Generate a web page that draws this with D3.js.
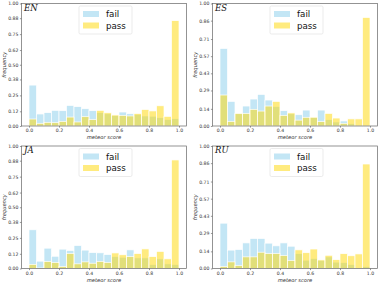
<!DOCTYPE html>
<html>
<head>
<meta charset="utf-8">
<script src="https://cdn.jsdelivr.net/npm/d3@7"></script>
<style>
  body { margin: 0; background: #fff; }
  svg { display: block; font-family: "DejaVu Sans", sans-serif; }
</style>
</head>
<body>
<script>
const w = 382;
const h = 285;

// bin edges (20 bins of 0.05)
const binStarts = [0, 0.05, 0.1, 0.15, 0.2, 0.25, 0.3, 0.35, 0.4, 0.45,
                   0.5, 0.55, 0.6, 0.65, 0.7, 0.75, 0.8, 0.85, 0.9, 0.95];
const binWidth = 0.05;

const languages = ['EN', 'ES', 'JA', 'RU'];
const xTicks = [0, 0.2, 0.4, 0.6, 0.8, 1.0];
const yTicks9 = ['0.00', '0.12', '0.25', '0.38', '0.50', '0.62', '0.75', '0.88', '1.00'];
const yTicks8 = ['0.00', '0.14', '0.29', '0.43', '0.57', '0.71', '0.86', '1.00'];

const failEN = [0.334, 0.098, 0.109, 0.128, 0.125, 0.168, 0.158, 0.141, 0.125, 0.11,
                0.10, 0.085, 0.114, 0.10, 0.095, 0.082, 0.08, 0.068, 0.054, 0.06];
const passEN = [0.057, 0.022, 0.03, 0.027, 0.038, 0.073, 0.033, 0.076, 0.052, 0.128,
                0.108, 0.09, 0.087, 0.082, 0.102, 0.135, 0.123, 0.165, 0.079, 0.86];

const failES = [0.633, 0.201, 0.10, 0.163, 0.22, 0.258, 0.212, 0.16, 0.125, 0.10,
                0.092, 0.13, 0.07, 0.13, 0.052, 0.033, 0.041, 0.02, 0.0, 0.0];
const passES = [0.253, 0.038, 0.103, 0.103, 0.136, 0.122, 0.163, 0.201, 0.087, 0.107,
                0.048, 0.071, 0.072, 0.036, 0.103, 0.065, 0.022, 0.058, 0.058, 0.886];

const failJA = [0.316, 0.06, 0.166, 0.10, 0.158, 0.147, 0.188, 0.15, 0.13, 0.128,
                0.114, 0.098, 0.092, 0.152, 0.087, 0.087, 0.033, 0.079, 0.038, 0.033];
const passJA = [0.034, 0.004, 0.057, 0.049, 0.016, 0.123, 0.038, 0.054, 0.043, 0.058,
                0.05, 0.127, 0.112, 0.098, 0.122, 0.16, 0.097, 0.14, 0.079, 0.886];

const failRU = [0.37, 0.15, 0.155, 0.209, 0.245, 0.245, 0.207, 0.185, 0.209, 0.182,
                0.122, 0.068, 0.082, 0.068, 0.095, 0.052, 0.049, 0.033, 0.004, 0.016];
const passRU = [0.016, 0.054, 0.024, 0.095, 0.095, 0.133, 0.122, 0.122, 0.106, 0.066,
                0.152, 0.129, 0.159, 0.07, 0.108, 0.072, 0.121, 0.104, 0.119, 0.853];

const failData = { EN: failEN, ES: failES, JA: failJA, RU: failRU };
const passData = { EN: passEN, ES: passES, JA: passJA, RU: passRU };
const yTickSets = { EN: yTicks9, ES: yTicks8, JA: yTicks9, RU: yTicks8 };

const failColor = 'skyblue';
const passColor = 'gold';

const panelW = 191;
const panelH = 142.5;
const m = { left: 21.5, right: 4.5, top: 3.5, bottom: 16.5 };

const svg = d3.select('body').append('svg')
              .attr('width', w)
              .attr('height', h);

languages.forEach((lang, i) => {
  const col = i % 2, row = Math.floor(i / 2);
  const g = svg.append('g')
               .attr('transform', 'translate(' + (col * panelW) + ',' + (row * panelH) + ')');

  const x = d3.scaleLinear().domain([-0.05, 1.05]).range([m.left, panelW - m.right]);
  const y = d3.scaleLinear().domain([0, 1]).range([panelH - m.bottom, m.top]);

  const series = [
    { values: failData[lang], color: failColor },
    { values: passData[lang], color: passColor }
  ];

  series.forEach(s => {
    g.append('g').selectAll('rect')
     .data(s.values)
     .enter()
     .append('rect')
     .attr('x', (d, j) => x(binStarts[j]))
     .attr('width', x(binWidth) - x(0))
     .attr('y', d => y(d))
     .attr('height', d => y(0) - y(d))
     .attr('fill', s.color)
     .attr('fill-opacity', 0.5)
     .attr('stroke', '#fff')
     .attr('stroke-width', 0.7);
  });

  // axes
  const xAxis = d3.axisBottom(x).tickValues(xTicks).tickFormat(d3.format('.1f'))
                  .tickSize(1.6).tickPadding(1.5);
  const yVals = yTickSets[lang];
  const yAxis = d3.axisLeft(y).tickValues(yVals.map(Number))
                  .tickFormat((d, k) => yVals[k]).tickSize(1.6).tickPadding(1.5);

  const gx = g.append('g')
              .attr('transform', 'translate(0,' + (panelH - m.bottom) + ')')
              .call(xAxis);
  const gy = g.append('g')
              .attr('transform', 'translate(' + m.left + ',0)')
              .call(yAxis);
  [gx, gy].forEach(a => {
    a.select('.domain').remove();
    a.selectAll('line').attr('stroke', '#555').attr('stroke-width', 0.6);
    a.selectAll('text').attr('font-size', 4.6).attr('fill', '#333')
     .attr('font-family', '"DejaVu Sans", sans-serif');
  });

  // frame
  g.append('rect')
   .attr('x', m.left).attr('y', m.top)
   .attr('width', panelW - m.right - m.left)
   .attr('height', panelH - m.bottom - m.top)
   .attr('fill', 'none')
   .attr('stroke', '#666')
   .attr('stroke-width', 0.7);

  // labels
  g.append('text')
   .text('meteor score')
   .attr('x', (m.left + panelW - m.right) / 2)
   .attr('y', panelH - 3.5)
   .attr('text-anchor', 'middle')
   .attr('font-size', 5.2)
   .attr('font-style', 'italic')
   .attr('fill', '#333');

  g.append('text')
   .text('frequency')
   .attr('transform', 'translate(5.5,' + ((m.top + panelH - m.bottom) / 2) + ') rotate(-90)')
   .attr('text-anchor', 'middle')
   .attr('font-size', 5.2)
   .attr('font-style', 'italic')
   .attr('fill', '#333');

  g.append('text')
   .text(lang)
   .attr('x', 24)
   .attr('y', 10.8)
   .attr('font-family', '"DejaVu Serif", serif')
   .attr('font-style', 'italic')
   .attr('font-size', 8.5)
   .attr('fill', '#111');

  // legend
  const legend = g.append('g').attr('class', 'legend');
  legend.append('rect')
        .attr('x', 79).attr('y', 6)
        .attr('width', 53).attr('height', 28)
        .attr('rx', 1.5)
        .attr('fill', '#fff').attr('fill-opacity', 0.85)
        .attr('stroke', '#ddd').attr('stroke-width', 0.6);
  const items = [
    { label: 'fail', color: failColor, y: 11 },
    { label: 'pass', color: passColor, y: 22.5 }
  ];
  items.forEach(it => {
    legend.append('rect')
          .attr('x', 83).attr('y', it.y)
          .attr('width', 16).attr('height', 6)
          .attr('fill', it.color).attr('fill-opacity', 0.5);
    legend.append('text')
          .text(it.label)
          .attr('x', 106)
          .attr('y', it.y + 6.2)
          .attr('font-size', 8.7)
          .attr('fill', '#111');
  });
});
</script>
</body>
</html>
